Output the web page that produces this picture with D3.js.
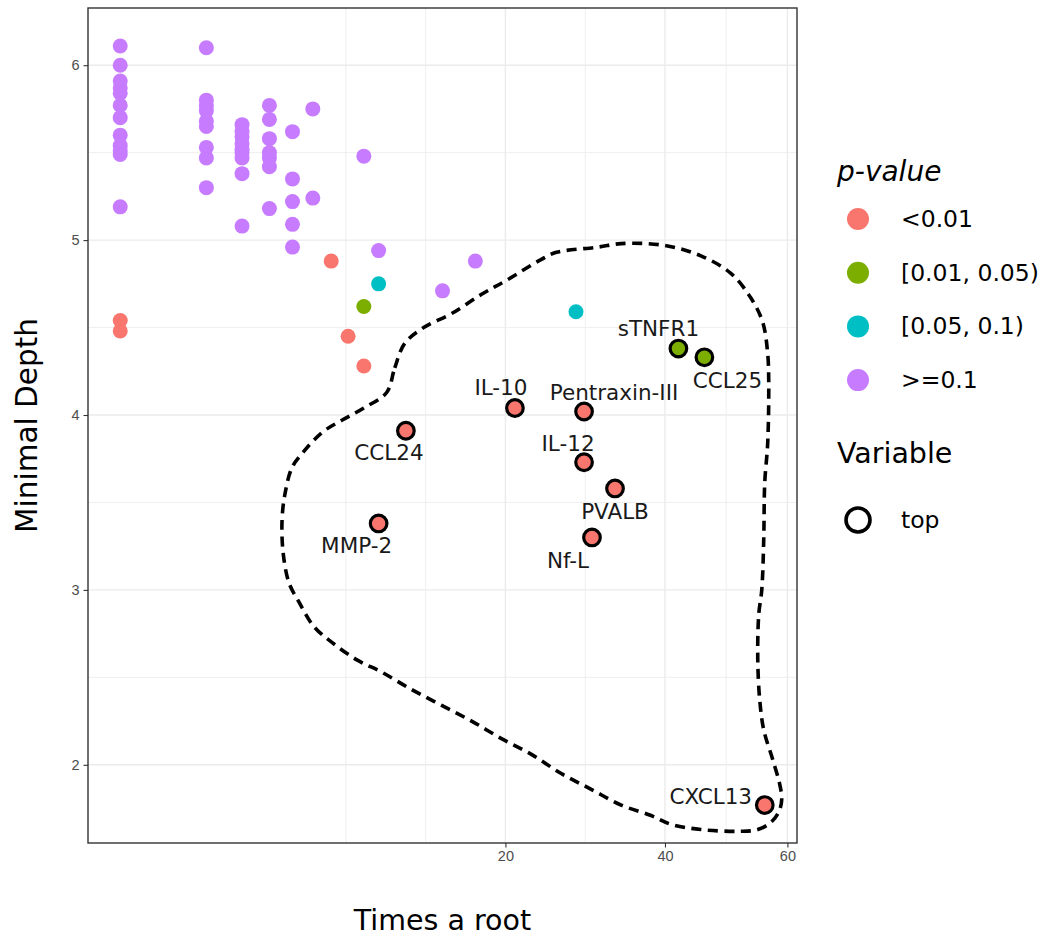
<!DOCTYPE html>
<html>
<head>
<meta charset="utf-8">
<script src="https://cdn.jsdelivr.net/npm/d3@7"></script>
<style>
  body { margin: 0; background: #fff; }
  svg { display: block; }
</style>
</head>
<body>
<svg id="chart" width="1050" height="939"></svg>
<script>
(function () {
  'use strict';

  // p-value classes and their colours
  var pLevels = ['<0.01', '[0.01, 0.05)', '[0.05, 0.1)', '>=0.1'];
  var pColors = ['#F8766D', '#7CAE00', '#00BFC4', '#C77CFF'];

  // the top variables (labelled)
  var topNames = ['MMP-2', 'CCL24', 'IL-10', 'Pentraxin-III', 'IL-12', 'Nf-L', 'PVALB', 'sTNFR1', 'CCL25', 'CXCL13'];
  var topTimes = [9, 11, 21, 29, 29, 30, 33, 42, 46, 56];
  var topDepth = [3.38, 3.91, 4.04, 4.02, 3.73, 3.30, 3.58, 4.38, 4.33, 1.77];
  var topPClass = [0, 0, 0, 0, 0, 0, 0, 1, 1, 0];

  // every other variable
  var restTimes = [
    0, 0, 0, 0, 0, 0, 0, 0, 0, 0, 0, 0, 0, 0,
    1, 1, 1, 1, 1, 1, 1, 1, 1,
    2, 2, 2, 2, 2, 2, 2, 2, 2,
    3, 3, 3, 3, 3, 3, 3,
    4, 4, 4, 4, 4,
    5, 5,
    6, 7, 8, 8, 8, 9, 9, 14, 17, 28
  ];
  var restDepth = [
    6.11, 6.00, 5.91, 5.87, 5.84, 5.77, 5.70, 5.60, 5.54, 5.51, 5.49, 5.19, 4.54, 4.48,
    6.10, 5.80, 5.77, 5.74, 5.68, 5.65, 5.53, 5.47, 5.30,
    5.66, 5.62, 5.59, 5.55, 5.52, 5.50, 5.47, 5.38, 5.08,
    5.77, 5.69, 5.58, 5.50, 5.47, 5.42, 5.18,
    5.62, 5.35, 5.22, 5.09, 4.96,
    5.75, 5.24,
    4.88, 4.45, 5.48, 4.62, 4.28, 4.94, 4.75, 4.71, 4.88, 4.59
  ];
  var restPClass = [
    3, 3, 3, 3, 3, 3, 3, 3, 3, 3, 3, 3, 0, 0,
    3, 3, 3, 3, 3, 3, 3, 3, 3,
    3, 3, 3, 3, 3, 3, 3, 3, 3,
    3, 3, 3, 3, 3, 3, 3,
    3, 3, 3, 3, 3,
    3, 3,
    0, 0, 3, 1, 0, 3, 2, 3, 3, 2
  ];

  // outline drawn round the top variables
  var hullTimes = [
    9.58, 10.16, 10.91, 12.41, 14.80, 17.60, 20.11, 23.91, 25.64, 30.80, 33.82, 39.86,
    45.45, 50.26, 53.59, 55.65, 56.51, 56.69, 56.51, 55.99, 55.82, 55.48, 54.96, 54.79,
    55.13, 55.82, 57.39, 58.62, 58.98, 58.45, 57.04, 54.79, 51.91, 45.45, 40.89, 37.98,
    33.82, 29.90, 26.22, 22.79, 19.59, 16.64, 13.93, 11.45, 9.22, 7.55, 6.04, 5.06,
    4.31, 3.84, 3.58, 3.53, 3.66, 3.98, 4.46, 5.49, 6.62, 8.00
  ];
  var hullDepth = [
    4.13, 4.27, 4.41, 4.50, 4.58, 4.69, 4.77, 4.89, 4.93, 4.96, 4.98, 4.97,
    4.91, 4.81, 4.67, 4.53, 4.35, 4.18, 3.84, 3.61, 3.29, 3.00, 2.86, 2.60,
    2.37, 2.20, 2.03, 1.89, 1.80, 1.73, 1.67, 1.63, 1.62, 1.63, 1.66, 1.71,
    1.77, 1.86, 1.95, 2.06, 2.15, 2.25, 2.34, 2.43, 2.53, 2.60, 2.70, 2.79,
    2.93, 3.04, 3.21, 3.40, 3.55, 3.70, 3.78, 3.90, 3.97, 4.04
  ];

  var xTicks = [20, 40, 60];
  var yTicks = [2, 3, 4, 5, 6];

  // label offsets (px) as placed by the repel step in the original
  var labelOffset = {
    'MMP-2': [-22, 22], 'CCL24': [-17, 22], 'IL-10': [-14, -21],
    'Pentraxin-III': [30, -19], 'IL-12': [-16, -19], 'Nf-L': [-24, 23],
    'PVALB': [0, 23], 'sTNFR1': [-20, -20], 'CCL25': [23, 23], 'CXCL13': [-54, -9]
  };

  var panel = { left: 88, right: 797, top: 8, bottom: 843 };
  var svg = d3.select('#chart');

  // scales: sqrt on x, linear on y, ggplot style 5% expansion
  var allTimes = topTimes.concat(restTimes);
  var allDepth = topDepth.concat(restDepth);
  var sMin = Math.sqrt(d3.min(allTimes));
  var sMax = Math.sqrt(d3.max(allTimes));
  var sPad = (sMax - sMin) * 0.05;
  var lo = sMin - sPad;
  var hi = sMax + sPad;
  var x = d3.scaleSqrt()
    .domain([lo < 0 ? -lo * lo : lo * lo, hi * hi])
    .range([panel.left, panel.right]);

  var yMin = d3.min(allDepth);
  var yMax = d3.max(allDepth);
  var yPad = (yMax - yMin) * 0.05;
  var y = d3.scaleLinear()
    .domain([yMin - yPad, yMax + yPad])
    .range([panel.bottom, panel.top]);

  // gridlines
  var grid = svg.append('g');
  // minor x breaks sit halfway between majors in sqrt space, plus one extra step left
  var sq = xTicks.map(Math.sqrt);
  var step = sq[1] - sq[0];
  var xBreaks = [sq[0] - step].concat(sq);
  var xMinor = [];
  for (var i = 0; i < xBreaks.length - 1; i++) {
    xMinor.push((xBreaks[i] + xBreaks[i + 1]) / 2);
  }
  xMinor.push(xBreaks[0]);
  var xMinorPx = xMinor.map(function (s) { return x(s * s); });
  var yMinor = yTicks.slice(0, -1).map(function (t) { return t + 0.5; })
    .concat([yTicks[0] - 0.5, yTicks[yTicks.length - 1] + 0.5])
    .filter(function (t) { return t > y.domain()[0] && t < y.domain()[1]; });

  grid.selectAll('.xminor').data(xMinorPx).enter().append('line')
    .attr('x1', function (d) { return d; }).attr('x2', function (d) { return d; })
    .attr('y1', panel.top).attr('y2', panel.bottom)
    .attr('stroke', '#EBEBEB').attr('stroke-width', 0.8);
  grid.selectAll('.yminor').data(yMinor).enter().append('line')
    .attr('y1', function (d) { return y(d); }).attr('y2', function (d) { return y(d); })
    .attr('x1', panel.left).attr('x2', panel.right)
    .attr('stroke', '#EBEBEB').attr('stroke-width', 0.8);
  grid.selectAll('.xmajor').data(xTicks).enter().append('line')
    .attr('x1', function (d) { return x(d); }).attr('x2', function (d) { return x(d); })
    .attr('y1', panel.top).attr('y2', panel.bottom)
    .attr('stroke', '#EBEBEB').attr('stroke-width', 1.4);
  grid.selectAll('.ymajor').data(yTicks).enter().append('line')
    .attr('y1', function (d) { return y(d); }).attr('y2', function (d) { return y(d); })
    .attr('x1', panel.left).attr('x2', panel.right)
    .attr('stroke', '#EBEBEB').attr('stroke-width', 1.4);

  // hull outline
  var hull = hullTimes.map(function (t, k) { return [x(t), y(hullDepth[k])]; });
  svg.append('path')
    .attr('d', d3.line().curve(d3.curveCatmullRomClosed.alpha(0.5))(hull))
    .attr('fill', 'none')
    .attr('stroke', '#000')
    .attr('stroke-width', 3.6)
    .attr('stroke-dasharray', '10,6.5');

  // ordinary points
  svg.append('g').selectAll('circle')
    .data(restTimes.map(function (t, k) { return { t: t, d: restDepth[k], p: restPClass[k] }; }))
    .enter().append('circle')
    .attr('cx', function (d) { return x(d.t); })
    .attr('cy', function (d) { return y(d.d); })
    .attr('r', 7.5)
    .attr('fill', function (d) { return pColors[d.p]; });

  // top points
  var tops = topNames.map(function (n, k) {
    return { name: n, t: topTimes[k], d: topDepth[k], p: topPClass[k] };
  });
  svg.append('g').selectAll('circle')
    .data(tops)
    .enter().append('circle')
    .attr('cx', function (d) { return x(d.t); })
    .attr('cy', function (d) { return y(d.d); })
    .attr('r', 8.3)
    .attr('fill', function (d) { return pColors[d.p]; })
    .attr('stroke', '#000')
    .attr('stroke-width', 3.2);

  svg.append('g').selectAll('text')
    .data(tops)
    .enter().append('text')
    .attr('x', function (d) { return x(d.t) + labelOffset[d.name][0]; })
    .attr('y', function (d) { return y(d.d) + labelOffset[d.name][1]; })
    .attr('text-anchor', 'middle')
    .attr('dominant-baseline', 'central')
    .attr('font-family', 'DejaVu Sans, sans-serif')
    .attr('font-size', 21.5)
    .attr('fill', '#1a1a1a')
    .text(function (d) { return d.name; });

  // panel border
  svg.append('rect')
    .attr('x', panel.left).attr('y', panel.top)
    .attr('width', panel.right - panel.left).attr('height', panel.bottom - panel.top)
    .attr('fill', 'none').attr('stroke', '#333').attr('stroke-width', 1.4);

  // axes
  var xAxis = svg.append('g')
    .attr('transform', 'translate(0,' + panel.bottom + ')')
    .call(d3.axisBottom(x).tickValues(xTicks).tickSize(4.5).tickPadding(3).tickFormat(d3.format('d')));
  var yAxis = svg.append('g')
    .attr('transform', 'translate(' + panel.left + ',0)')
    .call(d3.axisLeft(y).tickValues(yTicks).tickSize(4.5).tickPadding(4).tickFormat(d3.format('d')));
  [xAxis, yAxis].forEach(function (ax) {
    ax.select('.domain').remove();
    ax.selectAll('line').attr('stroke', '#333').attr('stroke-width', 1.1);
    ax.selectAll('text')
      .attr('fill', '#4D4D4D')
      .attr('font-family', 'Liberation Sans, Arial, sans-serif')
      .attr('font-size', 14.5);
  });

  svg.append('text')
    .attr('x', (panel.left + panel.right) / 2)
    .attr('y', 930)
    .attr('text-anchor', 'middle')
    .attr('font-family', 'DejaVu Sans, sans-serif')
    .attr('font-size', 28.5)
    .attr('fill', '#000')
    .text('Times a root');

  svg.append('text')
    .attr('transform', 'translate(37,' + (panel.top + panel.bottom) / 2 + ') rotate(-90)')
    .attr('text-anchor', 'middle')
    .attr('font-family', 'DejaVu Sans, sans-serif')
    .attr('font-size', 29.5)
    .attr('fill', '#000')
    .text('Minimal Depth');

  // legends
  var legend = svg.append('g').attr('font-family', 'DejaVu Sans, sans-serif');
  legend.append('text')
    .attr('x', 837).attr('y', 181)
    .attr('font-size', 28)
    .attr('font-style', 'italic')
    .text('p-value');
  var keys = legend.selectAll('.key')
    .data(pLevels)
    .enter().append('g')
    .attr('transform', function (d, k) { return 'translate(0,' + (219 + k * 53.7) + ')'; });
  keys.append('circle')
    .attr('cx', 858).attr('cy', 0).attr('r', 11)
    .attr('fill', function (d, k) { return pColors[k]; });
  keys.append('text')
    .attr('x', 901).attr('y', 0)
    .attr('dominant-baseline', 'central')
    .attr('font-size', 23.5)
    .text(function (d) { return d; });

  legend.append('text')
    .attr('x', 837).attr('y', 463)
    .attr('font-size', 28.5)
    .text('Variable');
  legend.append('circle')
    .attr('cx', 858).attr('cy', 520).attr('r', 12)
    .attr('fill', 'none').attr('stroke', '#000').attr('stroke-width', 3.6);
  legend.append('text')
    .attr('x', 901).attr('y', 520)
    .attr('dominant-baseline', 'central')
    .attr('font-size', 23.5)
    .text('top');
}());
</script>
</body>
</html>
